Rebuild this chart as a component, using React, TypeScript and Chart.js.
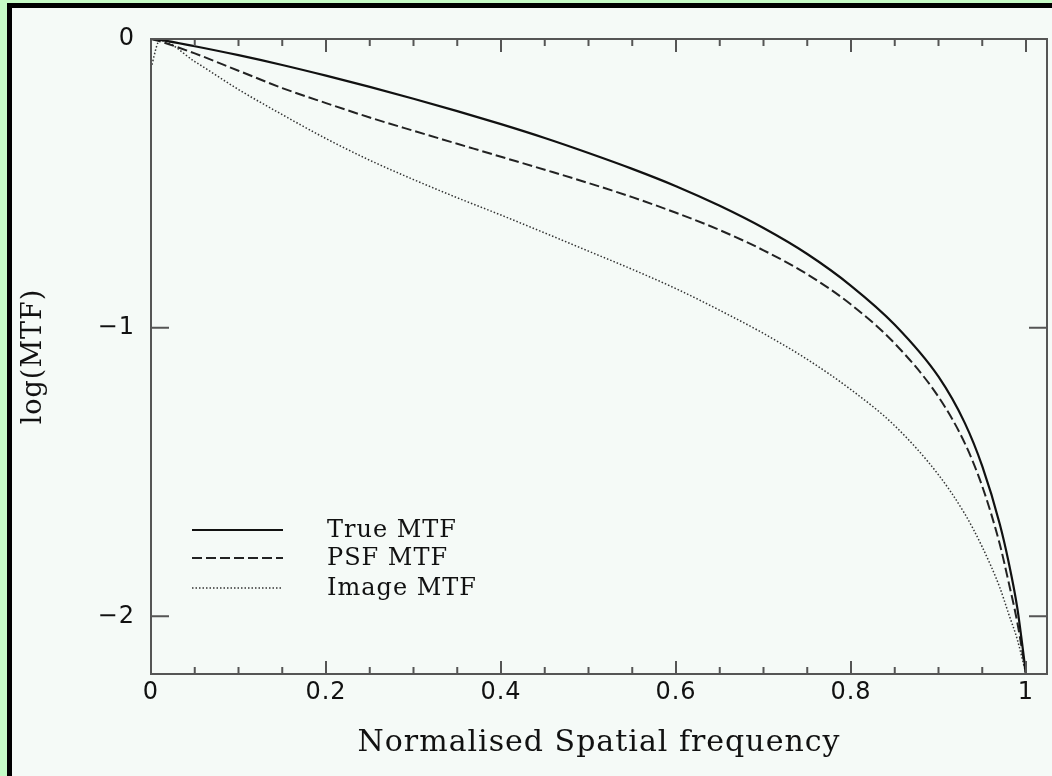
import React, { useEffect, useRef } from "react";
import { Chart, registerables } from "chart.js";

Chart.register(...registerables);

// ---- data ----
const freq = [0, 0.01, 0.05, 0.1, 0.15, 0.2, 0.25, 0.3, 0.35, 0.4, 0.45, 0.5, 0.55, 0.6, 0.65, 0.7, 0.75, 0.8, 0.85, 0.9, 0.93, 0.95, 0.97, 0.98, 0.99, 1.0];
const trueMtf = [0, -0.003, -0.025, -0.056, -0.09, -0.127, -0.166, -0.207, -0.25, -0.295, -0.343, -0.395, -0.45, -0.51, -0.578, -0.655, -0.745, -0.855, -0.99, -1.17, -1.33, -1.48, -1.68, -1.81, -1.97, -2.2];
const psfMtf = [0, -0.008, -0.05, -0.11, -0.17, -0.222, -0.272, -0.318, -0.363, -0.408, -0.453, -0.499, -0.548, -0.602, -0.662, -0.732, -0.815, -0.92, -1.055, -1.24, -1.4, -1.55, -1.75, -1.88, -2.02, -2.2];
const imageMtf = [-0.1, -0.005, -0.078, -0.175, -0.262, -0.345, -0.42, -0.487, -0.55, -0.61, -0.672, -0.735, -0.798, -0.865, -0.94, -1.02, -1.11, -1.215, -1.34, -1.51, -1.645, -1.76, -1.9, -1.99, -2.08, -2.2];

const seriesLabels = ["True MTF", "PSF MTF", "Image MTF"];
const xMajorTicks = [0, 0.2, 0.4, 0.6, 0.8, 1];
const xMinorTicks = [0.05, 0.1, 0.15, 0.25, 0.3, 0.35, 0.45, 0.5, 0.55, 0.65, 0.7, 0.75, 0.85, 0.9, 0.95];
const yMajorTicks = [0, -1, -2];
const xTitle = "Normalised Spatial frequency";
const yTitle = "log(MTF)";

const toPoints = (ys: number[]) => freq.map((x, i) => ({ x, y: ys[i] }));

export default function App() {
  const ref = useRef<HTMLCanvasElement>(null);

  useEffect(() => {
    const spacingPlugin = {
      id: "spacing",
      beforeDraw(chart: any) {
        try { chart.ctx.letterSpacing = "1px"; } catch (e) {}
      },
      afterDraw(chart: any) {
        try { chart.ctx.letterSpacing = "0px"; } catch (e) {}
      },
    };
    const framePlugin = {
      id: "pgframe",
      afterDatasetsDraw(chart: any) {
        const { ctx, chartArea: a, scales } = chart;
        const xs = scales.x;
        const ys = scales.y;
        ctx.save();
        ctx.strokeStyle = "#555";
        ctx.lineWidth = 2;
        ctx.setLineDash([]);
        ctx.strokeRect(a.left, a.top, a.right - a.left, a.bottom - a.top);
        ctx.beginPath();
        const xTick = (v: number, len: number) => {
          const px = xs.getPixelForValue(v);
          ctx.moveTo(px, a.bottom);
          ctx.lineTo(px, a.bottom - len);
          ctx.moveTo(px, a.top);
          ctx.lineTo(px, a.top + len);
        };
        xMajorTicks.forEach((v) => xTick(v, 13));
        xMinorTicks.forEach((v) => xTick(v, 7));
        yMajorTicks.forEach((v) => {
          const py = ys.getPixelForValue(v);
          ctx.moveTo(a.left, py);
          ctx.lineTo(a.left + 18, py);
          ctx.moveTo(a.right, py);
          ctx.lineTo(a.right - 18, py);
        });
        ctx.stroke();

        // legend inside the plot
        const rows = [530, 558, 588];
        chart.data.datasets.forEach((ds: any, i: number) => {
          const y = rows[i];
          ctx.beginPath();
          ctx.strokeStyle = ds.borderColor;
          ctx.lineWidth = ds.borderWidth;
          ctx.setLineDash(ds.borderDash || []);
          ctx.moveTo(a.left + 41, y);
          ctx.lineTo(a.left + 132, y);
          ctx.stroke();
          ctx.setLineDash([]);
          ctx.fillStyle = "#111";
          ctx.font = "24px 'DejaVu Serif'";
          ctx.textBaseline = "middle";
          ctx.textAlign = "left";
          ctx.fillText(ds.label, a.left + 176, y + 1);
        });
        ctx.restore();
      },
    };

    const common = { pointRadius: 0, fill: false, cubicInterpolationMode: "monotone" as const };
    const chart = new Chart(ref.current as HTMLCanvasElement, {
      type: "line",
      data: {
        datasets: [
          { ...common, label: seriesLabels[0], data: toPoints(trueMtf), borderColor: "#111", borderWidth: 2.2 },
          { ...common, label: seriesLabels[1], data: toPoints(psfMtf), borderColor: "#222", borderWidth: 2, borderDash: [10, 4] },
          { ...common, label: seriesLabels[2], data: toPoints(imageMtf), borderColor: "#333", borderWidth: 1.5, borderDash: [1.5, 2] },
        ],
      },
      options: {
        responsive: false,
        animation: false,
        events: [],
        layout: { padding: { left: 0, top: 39, right: 5, bottom: 0 }, autoPadding: false },
        plugins: { legend: { display: false }, tooltip: { enabled: false } },
        scales: {
          x: {
            type: "linear",
            min: 0,
            max: 1.024,
            afterBuildTicks: (s: any) => { s.ticks = xMajorTicks.map((v) => ({ value: v })); },
            afterFit: (s: any) => { s.height = 102; },
            grid: { display: false, drawTicks: false },
            border: { display: false },
            ticks: {
              autoSkip: false,
              maxRotation: 0,
              padding: 4,
              color: "#111",
              font: { family: "'DejaVu Sans'", size: 24 },
              callback: (v: any) => String(v),
            },
            title: {
              display: true,
              text: xTitle,
              color: "#111",
              font: { family: "'DejaVu Serif'", size: 30 },
              padding: { top: 0, bottom: 15 },
            },
          },
          y: {
            type: "linear",
            min: -2.2,
            max: 0,
            afterBuildTicks: (s: any) => { s.ticks = yMajorTicks.map((v) => ({ value: v })); },
            afterFit: (s: any) => { s.width = 151; },
            grid: { display: false, drawTicks: false },
            border: { display: false },
            ticks: {
              autoSkip: false,
              padding: 16,
              color: "#111",
              font: { family: "'DejaVu Sans'", size: 24 },
              callback: (v: any) => (v < 0 ? "\u2212" + Math.abs(v) : String(v)),
            },
            title: {
              display: true,
              text: yTitle,
              color: "#111",
              font: { family: "'DejaVu Serif'", size: 27 },
              padding: { top: 18, bottom: 0 },
            },
          },
        },
      },
      plugins: [spacingPlugin, framePlugin],
    });
    return () => chart.destroy();
  }, []);

  return (
    <div style={{ position: "fixed", left: 0, top: 0, width: 1052, height: 776, background: "#c6fbc6", overflow: "hidden" }}>
      <div
        style={{
          position: "absolute",
          left: 7,
          top: 3,
          right: -20,
          bottom: -20,
          borderLeft: "5px solid #000",
          borderTop: "5px solid #000",
          background: "#f5faf7",
        }}
      />
      <canvas ref={ref} width={1052} height={776} style={{ position: "absolute", left: 0, top: 0 }} />
    </div>
  );
}
